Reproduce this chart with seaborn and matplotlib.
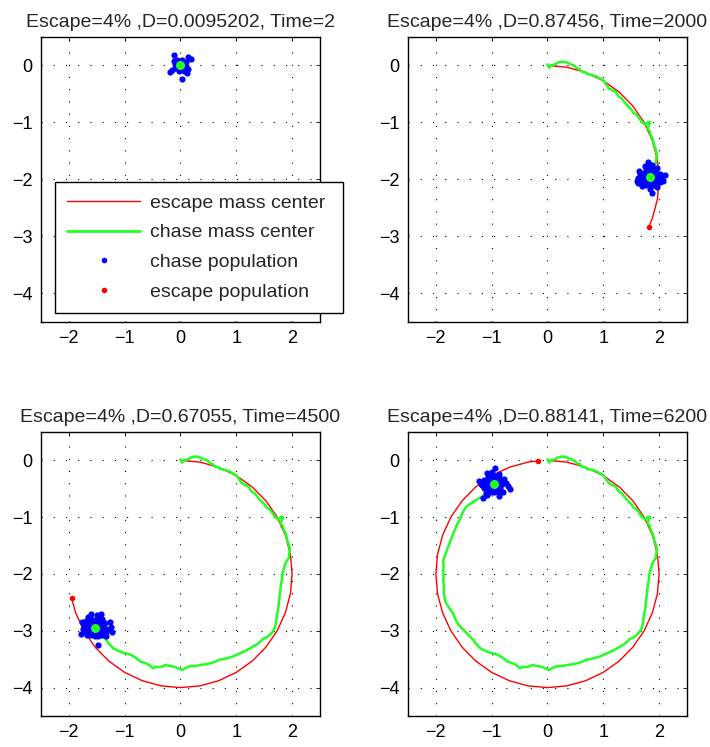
import seaborn as sns
import matplotlib
matplotlib.use("Agg")
import matplotlib.pyplot as plt
from matplotlib.lines import Line2D

# ---- data ----
titles = [
    "Escape=4% ,D=0.0095202, Time=2",
    "Escape=4% ,D=0.87456, Time=2000",
    "Escape=4% ,D=0.67055, Time=4500",
    "Escape=4% ,D=0.88141, Time=6200",
]

# escape mass center track (clockwise from the top of the circle)
escape_x = [0.0, 0.347, 0.684, 1.0, 1.286, 1.532, 1.732, 1.879, 1.97, 2.0,
            1.97, 1.879, 1.732, 1.532, 1.286, 1.0, 0.684, 0.347, 0.0,
            -0.347, -0.684, -1.0, -1.286, -1.532, -1.732, -1.879, -1.97, -2.0,
            -1.97, -1.879, -1.732, -1.532, -1.286, -1.0, -0.684, -0.347]
escape_y = [0.0, -0.03, -0.121, -0.268, -0.468, -0.714, -1.0, -1.316, -1.653, -2.0,
            -2.347, -2.684, -3.0, -3.286, -3.532, -3.732, -3.879, -3.97, -4.0,
            -3.97, -3.879, -3.732, -3.532, -3.286, -3.0, -2.684, -2.347, -2.0,
            -1.653, -1.316, -1.0, -0.714, -0.468, -0.268, -0.121, -0.03]
escape_steps = [1, 12, 26, 36]

# escape population (red dot) per panel
escape_dot_x = [0.0, 1.815, -1.95, -0.17]
escape_dot_y = [0.0, -2.83, -2.43, -0.01]

# chase mass center track, in three legs
chase_leg1_x = [0.00, 0.03, 0.05, 0.09, 0.14, 0.18, 0.23, 0.27, 0.31, 0.36, 0.40, 0.45,
                0.49, 0.53, 0.58, 0.62, 0.67, 0.71, 0.77, 0.83, 0.88, 0.92, 0.97, 1.01,
                1.04, 1.07, 1.10, 1.13, 1.18, 1.22, 1.25, 1.28, 1.33, 1.37, 1.41, 1.45,
                1.50, 1.54, 1.59, 1.63, 1.66, 1.69, 1.75, 1.80, 1.84, 1.81, 1.79, 1.83,
                1.85, 1.88, 1.90, 1.91, 1.93, 1.95, 1.96, 1.95, 1.94, 1.90, 1.87, 1.84]
chase_leg1_y = [0.02, -0.04, 0.00, 0.01, 0.02, 0.05, 0.06, 0.07, 0.06, 0.05, 0.03, 0.01,
                -0.01, -0.05, -0.07, -0.11, -0.12, -0.15, -0.16, -0.18, -0.19, -0.22, -0.24, -0.27,
                -0.32, -0.36, -0.40, -0.42, -0.44, -0.46, -0.51, -0.55, -0.58, -0.63, -0.68, -0.72,
                -0.77, -0.83, -0.86, -0.90, -0.95, -0.99, -1.04, -0.99, -1.00, -1.06, -1.10, -1.15,
                -1.22, -1.28, -1.34, -1.40, -1.45, -1.51, -1.57, -1.64, -1.72, -1.78, -1.84, -1.95]
chase_leg2_x = [1.82, 1.82, 1.80, 1.79, 1.78, 1.77, 1.76, 1.75, 1.73, 1.72, 1.71, 1.69,
                1.65, 1.60, 1.54, 1.48, 1.41, 1.35, 1.29, 1.23, 1.17, 1.08, 0.99, 0.92,
                0.84, 0.76, 0.69, 0.61, 0.54, 0.45, 0.36, 0.27, 0.18, 0.10, 0.03, -0.04,
                -0.12, -0.20, -0.27, -0.33, -0.39, -0.44, -0.49, -0.55, -0.60, -0.66, -0.72, -0.78,
                -0.84, -0.90, -0.96, -1.02, -1.08, -1.14, -1.20, -1.25, -1.29, -1.33, -1.40, -1.47,
                -1.54]
chase_leg2_y = [-2.03, -2.10, -2.18, -2.28, -2.36, -2.45, -2.54, -2.63, -2.71, -2.80, -2.87, -2.95,
                -3.02, -3.07, -3.12, -3.14, -3.21, -3.25, -3.28, -3.32, -3.35, -3.39, -3.43, -3.46,
                -3.48, -3.50, -3.51, -3.55, -3.57, -3.59, -3.60, -3.62, -3.62, -3.65, -3.69, -3.66,
                -3.63, -3.62, -3.60, -3.63, -3.64, -3.63, -3.66, -3.61, -3.58, -3.56, -3.54, -3.49,
                -3.45, -3.42, -3.40, -3.39, -3.37, -3.34, -3.31, -3.26, -3.22, -3.16, -3.09, -3.02,
                -2.95]
chase_leg3_x = [-1.59, -1.63, -1.66, -1.69, -1.74, -1.78, -1.82, -1.84, -1.85, -1.86, -1.85, -1.87,
                -1.86, -1.87, -1.86, -1.87, -1.84, -1.81, -1.78, -1.75, -1.72, -1.69, -1.66, -1.62,
                -1.57, -1.54, -1.50, -1.45, -1.39, -1.33, -1.27, -1.21, -1.15, -1.10, -1.05, -1.00,
                -0.96]
chase_leg3_y = [-2.90, -2.84, -2.77, -2.69, -2.63, -2.57, -2.51, -2.45, -2.36, -2.28, -2.20, -2.12,
                -2.03, -1.94, -1.85, -1.77, -1.68, -1.60, -1.52, -1.45, -1.37, -1.29, -1.22, -1.13,
                -1.04, -0.96, -0.88, -0.81, -0.77, -0.73, -0.69, -0.66, -0.62, -0.57, -0.52, -0.46,
                -0.41]

# chase population (blue dots) per panel
pop1_x = [0.0, -0.05, 0.05, 0.0, 0.0, -0.05, 0.05, -0.05, 0.05, -0.09, 0.09, 0.02, -0.02,
          0.10, -0.10, 0.07, -0.07, -0.12, 0.18, 0.14, -0.19, -0.15, 0.03, 0.12, 0.13, -0.12]
pop1_y = [0.0, 0.0, 0.0, 0.05, -0.05, 0.05, 0.05, -0.05, -0.05, 0.02, -0.02, 0.09, -0.09,
          0.06, -0.04, -0.10, 0.09, 0.18, 0.12, 0.15, -0.11, -0.08, -0.24, -0.14, -0.07, 0.08]
pop2_x = [1.84, 1.77, 1.91, 1.70, 1.98, 1.63, 2.05, 1.80, 1.88, 1.73, 1.95, 1.66, 2.02,
          1.80, 1.88, 1.73, 1.95, 1.67, 2.01, 1.84, 1.77, 1.91, 1.84, 1.80, 1.88, 1.74, 1.96,
          1.84, 1.77, 1.91, 1.83, 1.88, 1.70, 1.97, 1.60, 2.10, 2.07, 1.64, 1.62,
          1.81, 1.87, 1.76, 1.92, 1.71, 1.99, 1.81, 1.87, 1.76, 1.93]
pop2_y = [-1.96, -1.96, -1.96, -1.95, -1.95, -1.97, -1.94, -1.89, -1.89, -1.88, -1.88, -1.90, -1.90,
          -2.03, -2.03, -2.04, -2.02, -2.02, -2.05, -1.82, -1.81, -1.81, -1.74, -1.70, -1.75, -1.77, -1.80,
          -2.10, -2.10, -2.10, -2.17, -2.23, -2.12, -2.14, -2.02, -1.92, -2.02, -1.86, -2.07,
          -1.85, -1.85, -1.92, -1.92, -1.99, -1.99, -2.07, -2.07, -2.00, -2.06]
pop3_x = [-1.54, -1.61, -1.47, -1.68, -1.40, -1.75, -1.33, -1.58, -1.50, -1.65, -1.43, -1.36, -1.72,
          -1.58, -1.50, -1.65, -1.43, -1.36, -1.72, -1.54, -1.61, -1.47, -1.40, -1.66, -1.50, -1.43, -1.60,
          -1.54, -1.61, -1.47, -1.68, -1.40, -1.79, -1.25, -1.23, -1.27, -1.48, -1.76, -1.33,
          -1.57, -1.51, -1.64, -1.44, -1.70, -1.38, -1.57, -1.51, -1.64, -1.44, -1.30, -1.70]
pop3_y = [-2.95, -2.95, -2.95, -2.94, -2.94, -2.97, -2.96, -2.88, -2.88, -2.87, -2.87, -2.86, -2.89,
          -3.02, -3.02, -3.02, -3.02, -3.03, -3.02, -2.81, -2.80, -2.80, -2.79, -2.76, -2.73, -2.70, -2.71,
          -3.09, -3.08, -3.09, -3.07, -3.08, -3.06, -2.93, -3.02, -2.84, -3.25, -2.84, -3.10,
          -2.91, -2.91, -2.91, -2.91, -2.98, -2.99, -3.06, -3.06, -2.84, -2.84, -2.99, -2.82]
pop4_x = [-0.96, -1.03, -0.89, -1.10, -0.82, -1.17, -0.75, -1.00, -0.92, -1.07, -0.85, -1.13, -0.78,
          -1.00, -0.92, -1.07, -0.85, -1.13, -0.97, -1.04, -0.90, -1.00, -0.94, -1.08, -0.86,
          -0.96, -1.03, -0.89, -1.10, -0.86, -0.70, -0.68, -1.20, -1.15, -1.09, -0.80, -1.22,
          -0.99, -0.93, -1.06, -0.86, -1.12, -0.79, -0.99, -0.93, -1.06, -0.86]
pop4_y = [-0.41, -0.41, -0.41, -0.40, -0.42, -0.43, -0.40, -0.34, -0.34, -0.33, -0.34, -0.35, -0.33,
          -0.48, -0.48, -0.49, -0.48, -0.49, -0.27, -0.26, -0.27, -0.20, -0.14, -0.22, -0.24,
          -0.55, -0.55, -0.56, -0.58, -0.63, -0.45, -0.50, -0.42, -0.66, -0.61, -0.55, -0.36,
          -0.37, -0.37, -0.44, -0.44, -0.38, -0.37, -0.51, -0.51, -0.30, -0.30]

# chase mass center (big green dot) per panel
center_x = [0.0, 1.84, -1.54, -0.96]
center_y = [0.0, -1.95, -2.95, -0.41]

# ---- build per-panel tracks ----
chase_paths = [
    ([chase_leg1_x[0]], [chase_leg1_y[0]]),
    (chase_leg1_x, chase_leg1_y),
    (chase_leg1_x + chase_leg2_x, chase_leg1_y + chase_leg2_y),
    (chase_leg1_x + chase_leg2_x + chase_leg3_x, chase_leg1_y + chase_leg2_y + chase_leg3_y),
]
pops = [(pop1_x, pop1_y), (pop2_x, pop2_y), (pop3_x, pop3_y), (pop4_x, pop4_y)]

sns.set_style("white")
plt.rcParams["font.family"] = ["Liberation Sans", "DejaVu Sans"]
plt.rcParams["axes.unicode_minus"] = True

RED = "#ff0000"
GREEN = "#22ff22"
BLUE = "#0000ff"

fig = plt.figure(figsize=(7.1, 7.47), dpi=100)
positions = [
    [0.0577, 0.5690, 0.3930, 0.3815],
    [0.5746, 0.5690, 0.3930, 0.3815],
    [0.0577, 0.0415, 0.3930, 0.3802],
    [0.5746, 0.0415, 0.3930, 0.3802],
]

for i in range(4):
    ax = fig.add_axes(positions[i])
    n = escape_steps[i]
    ex = escape_x[:n] + [escape_dot_x[i]]
    ey = escape_y[:n] + [escape_dot_y[i]]
    sns.lineplot(x=ex, y=ey, sort=False, estimator=None, color=RED, lw=1.0, ax=ax, zorder=2)
    cx, cy = chase_paths[i]
    if len(cx) > 1:
        sns.lineplot(x=cx, y=cy, sort=False, estimator=None, color=GREEN, lw=1.8, ax=ax, zorder=3)
    # escape population sits under the chase cloud
    sns.scatterplot(x=[escape_dot_x[i]], y=[escape_dot_y[i]], color=RED, s=16, linewidth=0,
                    ax=ax, zorder=3.5)
    px, py = pops[i]
    sns.scatterplot(x=px, y=py, color=BLUE, s=20, linewidth=0, ax=ax, zorder=4)
    sns.scatterplot(x=[center_x[i]], y=[center_y[i]], color=GREEN, s=42, linewidth=0, ax=ax, zorder=5)

    ax.set_xlim(-2.5, 2.5)
    ax.set_ylim(-4.5, 0.5)
    ax.set_xticks([-2, -1, 0, 1, 2])
    ax.set_yticks([-4, -3, -2, -1, 0])
    ax.tick_params(direction="in", length=3, width=0.6, top=True, right=True,
                   labelsize=13, colors="black", pad=6)
    ax.grid(True, color="black", linestyle=(0, (1, 10)), linewidth=0.8)
    for sp in ax.spines.values():
        sp.set_color("black")
        sp.set_linewidth(1.0)
    ax.set_title(titles[i], fontsize=14, pad=7)

    if i == 0:
        handles = [
            Line2D([], [], color=RED, lw=1.0),
            Line2D([], [], color=GREEN, lw=2.0),
            Line2D([], [], color=BLUE, marker=".", ms=6, ls="none"),
            Line2D([], [], color=RED, marker=".", ms=6, ls="none"),
        ]
        labels = ["escape mass center", "chase mass center", "chase population", "escape population"]
        leg = ax.legend(handles, labels, loc="center", bbox_to_anchor=(0.05, 0.032, 1.032, 0.459),
                        mode="expand", borderaxespad=0, fontsize=14, handlelength=3.76,
                        handletextpad=0.5, labelspacing=0.62, borderpad=0.62, fancybox=False,
                        framealpha=1, edgecolor="black")
        leg.get_frame().set_linewidth(1.0)
        leg.set_zorder(10)

fig.savefig("out.png", dpi=100)
